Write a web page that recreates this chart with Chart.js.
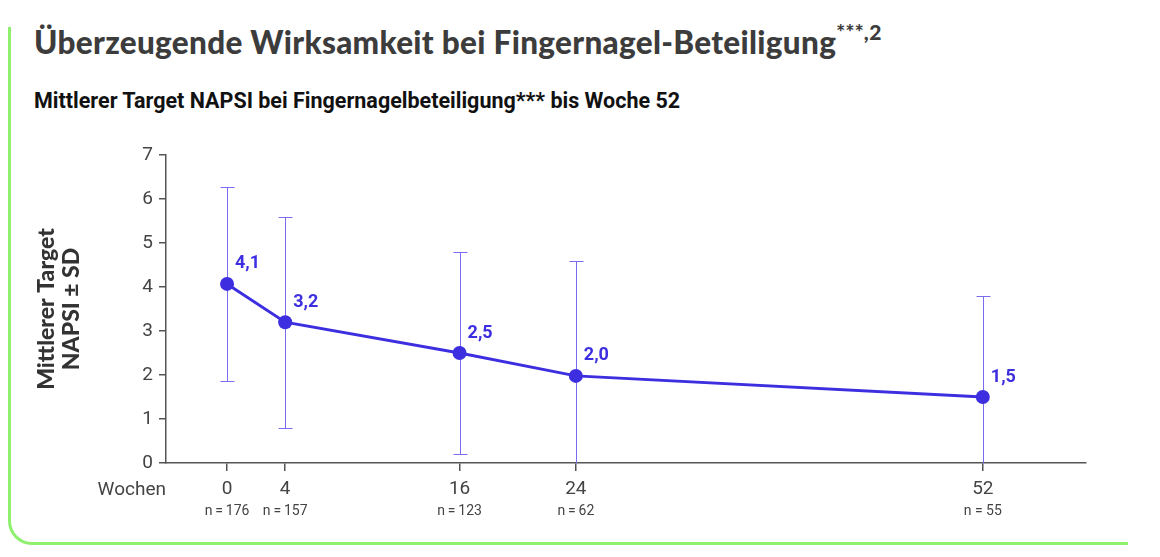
<!DOCTYPE html>
<html lang="de">
<head>
<meta charset="utf-8">
<script src="https://cdn.jsdelivr.net/npm/chart.js@4.4.1/dist/chart.umd.min.js"></script>
<style>
  html, body { margin: 0; padding: 0; background: #fff; }
  body { width: 1160px; height: 557px; position: relative; overflow: hidden; }
  .frame {
    position: absolute; left: 8px; top: 27px; width: 1117px; height: 515px;
    border-left: 3px solid #8ef06c; border-bottom: 3px solid #8ef06c;
    border-bottom-left-radius: 24px;
  }
  h1 {
    position: absolute; left: 34px; top: 21px; margin: 0;
    font: 900 31.5px Lato, "Open Sans", sans-serif; color: #3c3c3c; letter-spacing: 0.3px;
  }
  h1 sup { font-size: 21px; position: relative; top: -2px; }
  h2 {
    position: absolute; left: 34px; top: 88px; margin: 0;
    font: 700 21.5px Roboto, Inter, sans-serif; color: #111;
  }
  canvas { position: absolute; left: 0; top: 0; }
</style>
</head>
<body>
<div class="frame"></div>
<h1>Überzeugende Wirksamkeit bei Fingernagel-Beteiligung<sup>***,2</sup></h1>
<h2>Mittlerer Target NAPSI bei Fingernagelbeteiligung*** bis Woche 52</h2>
<canvas id="napsiChart" width="1160" height="557"></canvas>
<script>
// Data
const weeks = [0, 4, 16, 24, 52];
const meanNapsi = [4.07, 3.2, 2.5, 1.98, 1.5];
const sdNapsi = [2.2, 2.4, 2.3, 2.6, 2.3];
const valueLabels = ['4,1', '3,2', '2,5', '2,0', '1,5'];
const nLabels = ['n\u2009=\u2009176', 'n\u2009=\u2009157', 'n\u2009=\u2009123', 'n\u2009=\u200962', 'n = 55'];
const yTicks = [0, 1, 2, 3, 4, 5, 6, 7];

const lineColor = '#3d2ee0';
const errColor = '#7a6cf2';
const axisColor = '#555555';
const textColor = '#444444';

// Error bars, value labels, n labels and axis captions
const extrasPlugin = {
    id: 'extras',
    beforeDatasetsDraw(chart) {
        const ctx = chart.ctx;
        const xs = chart.scales.x, ys = chart.scales.y;
        ctx.save();
        ctx.strokeStyle = errColor;
        ctx.lineWidth = 1;
        weeks.forEach((w, i) => {
            const px = Math.round(xs.getPixelForValue(w)) + 0.5;
            const hi = meanNapsi[i] + sdNapsi[i];
            const lo = Math.max(0, meanNapsi[i] - sdNapsi[i]);
            const pyHi = Math.round(ys.getPixelForValue(hi)) + 0.5;
            const pyLo = Math.round(ys.getPixelForValue(lo)) + 0.5;
            ctx.beginPath();
            ctx.moveTo(px, pyHi);
            ctx.lineTo(px, pyLo);
            ctx.moveTo(px - 7, pyHi);
            ctx.lineTo(px + 7, pyHi);
            if (lo > 0) {
                ctx.moveTo(px - 7, pyLo);
                ctx.lineTo(px + 7, pyLo);
            }
            ctx.stroke();
        });
        ctx.restore();
    },
    afterDatasetsDraw(chart) {
        const ctx = chart.ctx;
        const xs = chart.scales.x, ys = chart.scales.y;
        ctx.save();
        // value labels
        ctx.fillStyle = lineColor;
        ctx.font = '700 18px Roboto, Inter, sans-serif';
        ctx.textAlign = 'left';
        ctx.textBaseline = 'middle';
        weeks.forEach((w, i) => {
            const px = xs.getPixelForValue(w);
            const py = ys.getPixelForValue(meanNapsi[i]);
            ctx.fillText(valueLabels[i], px + 8, py - 20);
        });
        // n labels
        ctx.fillStyle = textColor;
        ctx.font = '14px Roboto, "Liberation Sans", sans-serif';
        ctx.textAlign = 'center';
        weeks.forEach((w, i) => {
            ctx.fillText(nLabels[i], xs.getPixelForValue(w), 511);
        });
        // "Wochen"
        ctx.font = '19px Roboto, "Liberation Sans", sans-serif';
        ctx.textAlign = 'right';
        ctx.fillText('Wochen', 166, 490);
        // y axis title
        ctx.fillStyle = '#333333';
        ctx.font = '900 23px Lato, "Open Sans", sans-serif';
        ctx.textAlign = 'center';
        ctx.translate(60, 309);
        ctx.rotate(-Math.PI / 2);
        ctx.fillText('Mittlerer Target', 0, -13);
        ctx.fillText('NAPSI ± SD', 0, 12);
        ctx.restore();
    }
};

new Chart(document.getElementById('napsiChart').getContext('2d'), {
    type: 'line',
    data: {
        datasets: [{
            data: weeks.map((w, i) => ({ x: w, y: meanNapsi[i] })),
            borderColor: lineColor,
            backgroundColor: lineColor,
            borderWidth: 3,
            pointRadius: 7,
            pointHoverRadius: 7,
            pointBackgroundColor: lineColor,
            pointBorderWidth: 0,
            tension: 0,
            fill: false
        }]
    },
    options: {
        responsive: false,
        animation: false,
        events: [],
        layout: { padding: { top: 155, right: 74, left: 0, bottom: 0 } },
        plugins: {
            legend: { display: false },
            tooltip: { enabled: false }
        },
        scales: {
            x: {
                type: 'linear',
                min: -4.2,
                max: 59.1,
                afterBuildTicks: scale => { scale.ticks = weeks.map(v => ({ value: v })); },
                afterFit: scale => { scale.height = 94; },
                grid: { drawOnChartArea: false, drawTicks: true, tickLength: 8, color: axisColor, lineWidth: 1.5 },
                border: { color: axisColor, width: 1.5 },
                ticks: {
                    color: textColor,
                    padding: 7,
                    font: { family: 'Roboto, "Liberation Sans", sans-serif', size: 19 },
                    maxRotation: 0,
                    autoSkip: false
                }
            },
            y: {
                min: 0,
                max: 7,
                afterBuildTicks: scale => { scale.ticks = yTicks.map(v => ({ value: v })); },
                afterFit: scale => { scale.width = 166; },
                grid: { drawOnChartArea: false, drawTicks: true, tickLength: 7, color: axisColor, lineWidth: 1.5 },
                border: { color: axisColor, width: 1.5 },
                ticks: {
                    color: textColor,
                    padding: 6,
                    font: { family: 'Roboto, "Liberation Sans", sans-serif', size: 19 }
                }
            }
        }
    },
    plugins: [extrasPlugin]
});
</script>
</body>
</html>
